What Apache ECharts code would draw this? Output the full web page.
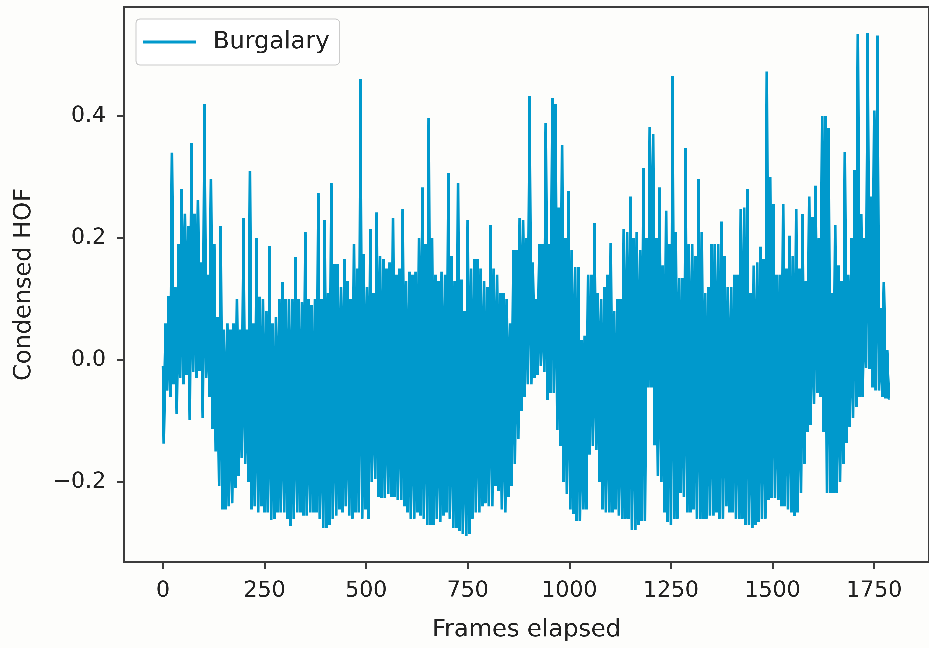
<!DOCTYPE html>
<html><head><meta charset="utf-8">
<script src="https://cdn.jsdelivr.net/npm/echarts/dist/echarts.min.js"></script>
<style>html,body{margin:0;padding:0;background:#fdfdfb;}#c{width:929px;height:648px;}</style>
</head><body><div id="c"></div>
<script>
const seriesName = 'Burgalary';
const xAxisTitle = 'Frames elapsed';
const yAxisTitle = 'Condensed HOF';
const xTickValues = [0, 250, 500, 750, 1000, 1250, 1500, 1750];
const yTickValues = [-0.2, 0, 0.2, 0.4];
const FRAME_STEP = 4; // frames between consecutive samples (peak, trough, peak, ...)

// upper swings of the signal, one every 8 frames starting at frame 0
const peaks = [
 -0.01, 0.06, 0.105, 0.34, 0.12, 0.19, 0.28, 0.24, 0.22, 0.356,
 0.24, 0.262, 0.16, 0.42, 0.14, 0.297, 0.19, 0.07, 0.22, 0.05,
 0.06, 0.05, 0.06, 0.1, 0.05, 0.233, 0.05, 0.31, 0.06, 0.2,
 0.104, 0.1, 0.08, 0.187, 0.06, 0.07, 0.1, 0.128, 0.1, 0.1,
 0.1, 0.169, 0.1, 0.095, 0.21, 0.1, 0.09, 0.1, 0.274, 0.1,
 0.23, 0.11, 0.29, 0.157, 0.157, 0.12, 0.166, 0.13, 0.1, 0.19,
 0.15, 0.461, 0.174, 0.12, 0.215, 0.11, 0.242, 0.17, 0.165, 0.15,
 0.16, 0.233, 0.14, 0.15, 0.248, 0.13, 0.145, 0.14, 0.145, 0.2,
 0.283, 0.19, 0.397, 0.2, 0.14, 0.13, 0.145, 0.14, 0.306, 0.17,
 0.13, 0.29, 0.132, 0.08, 0.23, 0.15, 0.165, 0.165, 0.15, 0.13,
 0.12, 0.221, 0.15, 0.14, 0.11, 0.11, 0.1, 0.06, 0.18, 0.18,
 0.233, 0.23, 0.2, 0.433, 0.16, 0.1, 0.19, 0.19, 0.388, 0.19,
 0.429, 0.42, 0.25, 0.353, 0.2, 0.277, 0.18, 0.152, 0.152, 0.033,
 0.04, 0.14, 0.14, 0.224, 0.11, 0.1, 0.12, 0.14, 0.192, 0.08,
 0.1, 0.1, 0.215, 0.21, 0.268, 0.2, 0.21, 0.18, 0.315, 0.2,
 0.382, 0.37, 0.2, 0.283, 0.155, 0.245, 0.19, 0.465, 0.21, 0.135,
 0.135, 0.347, 0.19, 0.19, 0.17, 0.297, 0.21, 0.11, 0.12, 0.19,
 0.19, 0.19, 0.227, 0.17, 0.12, 0.12, 0.14, 0.14, 0.248, 0.25,
 0.28, 0.11, 0.155, 0.16, 0.186, 0.165, 0.473, 0.3, 0.256, 0.14,
 0.14, 0.256, 0.15, 0.204, 0.17, 0.248, 0.15, 0.239, 0.13, 0.268,
 0.235, 0.286, 0.2, 0.4, 0.4, 0.38, 0.11, 0.221, 0.155, 0.13,
 0.341, 0.14, 0.2, 0.312, 0.535, 0.239, 0.2, 0.536, 0.268, 0.409,
 0.532, 0.085, 0.128, 0.016
];

// lower swings of the signal, one every 8 frames starting at frame 4
const troughs = [
 -0.137, -0.05, -0.06, -0.04, -0.089, -0.03, -0.04, -0.025, -0.098, -0.02,
 -0.03, -0.018, -0.095, -0.03, -0.06, -0.113, -0.15, -0.206, -0.245, -0.245,
 -0.24, -0.235, -0.21, -0.19, -0.16, -0.17, -0.2, -0.245, -0.24, -0.25,
 -0.24, -0.25, -0.25, -0.262, -0.26, -0.25, -0.25, -0.25, -0.26, -0.272,
 -0.26, -0.25, -0.25, -0.255, -0.255, -0.25, -0.25, -0.25, -0.26, -0.275,
 -0.275, -0.27, -0.26, -0.255, -0.245, -0.25, -0.24, -0.255, -0.26, -0.25,
 -0.25, -0.26, -0.245, -0.26, -0.2, -0.195, -0.225, -0.226, -0.226, -0.22,
 -0.225, -0.225, -0.23, -0.23, -0.24, -0.25, -0.26, -0.26, -0.25, -0.255,
 -0.26, -0.27, -0.27, -0.27, -0.26, -0.265, -0.255, -0.25, -0.26, -0.275,
 -0.275, -0.28, -0.285, -0.288, -0.285, -0.26, -0.25, -0.25, -0.24, -0.235,
 -0.24, -0.24, -0.206, -0.215, -0.245, -0.25, -0.225, -0.206, -0.171, -0.13,
 -0.083, -0.06, -0.04, -0.04, -0.03, -0.025, -0.01, -0.02, -0.066, -0.054,
 -0.054, -0.115, -0.141, -0.2, -0.22, -0.245, -0.253, -0.264, -0.264, -0.245,
 -0.245, -0.155, -0.141, -0.148, -0.2, -0.245, -0.25, -0.25, -0.25, -0.245,
 -0.255, -0.26, -0.26, -0.26, -0.279, -0.279, -0.27, -0.264, -0.264, -0.045,
 -0.045, -0.14, -0.19, -0.2, -0.25, -0.265, -0.27, -0.26, -0.26, -0.218,
 -0.225, -0.25, -0.25, -0.245, -0.26, -0.26, -0.26, -0.26, -0.255, -0.255,
 -0.25, -0.26, -0.26, -0.24, -0.25, -0.25, -0.26, -0.26, -0.26, -0.27,
 -0.27, -0.275, -0.27, -0.265, -0.26, -0.26, -0.23, -0.226, -0.226, -0.23,
 -0.24, -0.24, -0.245, -0.25, -0.256, -0.25, -0.218, -0.17, -0.118, -0.107,
 -0.072, -0.054, -0.06, -0.118, -0.218, -0.218, -0.218, -0.218, -0.2, -0.17,
 -0.136, -0.11, -0.095, -0.077, -0.06, -0.06, -0.013, -0.015, -0.045, -0.05,
 -0.05, -0.06, -0.063, -0.063
];

const seriesData = [];
for (let g = 0; g < peaks.length; g++) {
  seriesData.push([(2 * g) * FRAME_STEP, peaks[g]]);
  seriesData.push([(2 * g + 1) * FRAME_STEP, troughs[g]]);
}

const FONT = 'DejaVu Sans';
const TEXT = '#222222';
const SPINE = '#3c3c3c';
const LINE = '#0099cc';

// a higher backing-store ratio keeps the short step segments of this dense line from being dropped
const chart = echarts.init(document.getElementById('c'), null, {renderer: 'canvas', devicePixelRatio: 3});
chart.setOption({
  backgroundColor: '#fdfdfb',
  animation: false,
  textStyle: {fontFamily: FONT},
  grid: {left: 124, top: 7, width: 818, height: 555, show: true,
         borderColor: SPINE, borderWidth: 2, backgroundColor: 'transparent'},
  legend: {
    data: [seriesName], left: 136, top: 19,
    icon: 'rect', itemWidth: 53, itemHeight: 3,
    padding: [11, 10, 11, 7],
    backgroundColor: '#ffffff', borderColor: '#cccccc', borderWidth: 1, borderRadius: 4,
    textStyle: {fontFamily: FONT, fontSize: 24, color: TEXT, padding: [0, 0, 0, 12]}
  },
  xAxis: {
    type: 'value', min: -96, max: 1885,
    name: xAxisTitle, nameLocation: 'middle', nameGap: 56,
    nameTextStyle: {fontFamily: FONT, fontSize: 24, color: TEXT},
    axisLine: {show: false, onZero: false}, splitLine: {show: false},
    axisTick: {show: true, length: 7, customValues: xTickValues, lineStyle: {color: SPINE, width: 2}},
    axisLabel: {customValues: xTickValues, fontFamily: FONT, fontSize: 22, color: TEXT, margin: 18,
                formatter: v => String(Math.round(v))}
  },
  yAxis: {
    type: 'value', min: -0.3311, max: 0.5787,
    name: yAxisTitle, nameLocation: 'middle', nameGap: 88, nameRotate: 90,
    nameTextStyle: {fontFamily: FONT, fontSize: 24, color: TEXT},
    axisLine: {show: false, onZero: false}, splitLine: {show: false},
    axisTick: {show: true, length: 7, customValues: yTickValues, lineStyle: {color: SPINE, width: 2}},
    axisLabel: {customValues: yTickValues, fontFamily: FONT, fontSize: 22, color: TEXT, margin: 18,
                formatter: v => (v < -1e-9 ? '\u2212' : '') + Math.abs(v).toFixed(1)}
  },
  series: [{
    type: 'line', name: seriesName, data: seriesData,
    step: 'middle', symbol: 'none', showSymbol: false,
    lineStyle: {color: LINE, width: 2.8}, itemStyle: {color: LINE},
    emphasis: {disabled: true}
  }]
});
</script>
</body></html>
